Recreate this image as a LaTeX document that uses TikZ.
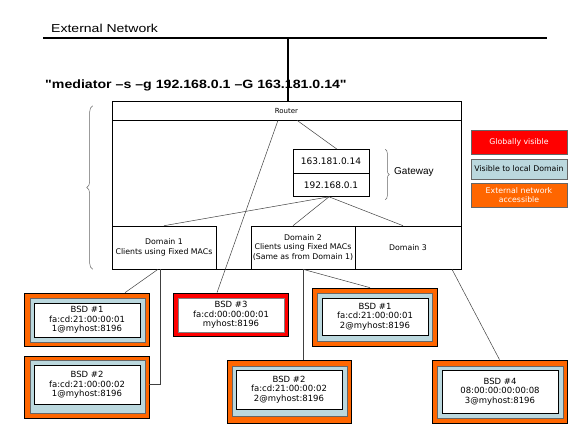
\documentclass[tikz,border=0pt]{standalone}
\usepackage{fontspec}
\usepackage{xcolor}
\usepackage{graphicx}
\usepackage{tikz}
\usetikzlibrary{decorations.pathreplacing}
\setmainfont{DejaVu Sans}
\newfontfamily\arialfont{Liberation Sans}
\definecolor{extorange}{RGB}{255,102,0}
\definecolor{localblue}{RGB}{187,216,222}
\definecolor{globalred}{RGB}{255,0,0}

\tikzset{
  box/.style={draw, line width=0.6pt, inner sep=0pt, align=center},
  bsdouter/.style={draw, line width=0.7pt, fill=extorange, inner sep=0pt},
  bsdpad/.style={draw=black!60, line width=0.5pt, fill=localblue, inner sep=0pt},
  bsdtext/.style={draw, line width=0.6pt, fill=white, inner sep=0pt, align=center, font=\fontsize{8.5}{9.5}\selectfont},
  link/.style={draw=black!75, line width=0.5pt},
  key/.style={draw=black!60, line width=0.5pt, minimum width=96pt, inner sep=0pt, align=center, font=\fontsize{7.8}{9}\selectfont},
  bracket/.style={decorate, draw=black!60, line width=0.5pt},
}

\begin{document}
\begin{tikzpicture}[x=1pt,y=-1pt]
\useasboundingbox (0,0) rectangle (576,432);

% external network and command line
\node[anchor=west, inner sep=0pt, font=\arialfont\fontsize{11.5}{13}\selectfont] (extlabel) at (51,28) {\scalebox{1.22}[1]{External Network}};
\coordinate (netw) at (43,38);
\coordinate (nete) at (547,38);
\coordinate (uplink) at (288,38);
\draw[line width=2.7pt] (netw) -- (nete);
\node[anchor=west, inner sep=0pt, font=\arialfont\fontsize{12}{14}\selectfont] (cmd) at (45,85) {\scalebox{1.18}[1]{\textbf{"mediator –s –g 192.168.0.1 –G 163.181.0.14"}}};

% router
\node[box, minimum width=349pt, minimum height=168pt] (routerbox) at (286.5,185) {};
\node[box, minimum width=349pt, minimum height=19pt, font=\fontsize{7}{8}\selectfont] (router) at (286.5,110.5) {Router};
\draw[line width=2.7pt] (uplink) -- (uplink |- router.north);

% gateway
\node[box, minimum width=76pt, minimum height=23.5pt, font=\fontsize{9}{10}\selectfont] (gwpub) at (331,161.25) {163.181.0.14};
\node[box, minimum width=76pt, minimum height=23.5pt, font=\fontsize{9}{10}\selectfont] (gwpriv) at (331,184.75) {192.168.0.1};
\draw[bracket, decoration={brace, amplitude=4pt}] ([xshift=16pt]gwpub.north east) -- ([xshift=16pt, yshift=-3pt]gwpriv.south east);
\node[anchor=west, inner sep=0pt, font=\arialfont\fontsize{10}{12}\selectfont] (gwlabel) at (394,172) {Gateway};

% domains
\node[box, minimum width=104pt, minimum height=43pt, font=\fontsize{7.8}{9.5}\selectfont] (dom1) at (164,247.5) {Domain 1\\Clients using Fixed MACs};
\node[box, minimum width=104pt, minimum height=43pt, font=\fontsize{7.8}{9.5}\selectfont] (dom2) at (303,247.5) {Domain 2\\Clients using Fixed MACs\\(Same as from Domain 1)};
\node[box, minimum width=106pt, minimum height=43pt, font=\fontsize{7.8}{9.5}\selectfont] (dom3) at (408,247.5) {Domain 3};
\draw[bracket, decoration={brace, amplitude=6pt}] ([xshift=-19pt]routerbox.south west) -- ([xshift=-19pt, yshift=-5pt]routerbox.north west);

% clients
\node[bsdouter, minimum width=125pt, minimum height=53pt] (bsd1a) at (86.5,319.5) {};
\node[bsdpad, minimum width=115pt, minimum height=44pt] (bsd1apad) at (87.5,320) {};
\node[bsdtext, minimum width=106pt, minimum height=34pt] (bsd1atxt) at (87,320) {BSD \#1\\fa:cd:21:00:00:01\\1@myhost:8196};

\node[bsdouter, minimum width=125pt, minimum height=62pt] (bsd2a) at (86.5,387) {};
\node[bsdpad, minimum width=115pt, minimum height=53pt] (bsd2apad) at (87.5,386.5) {};
\node[bsdtext, minimum width=106pt, minimum height=39pt] (bsd2atxt) at (87,385) {BSD \#2\\fa:cd:21:00:00:02\\1@myhost:8196};

\node[draw, line width=0.7pt, fill=globalred, inner sep=0pt, minimum width=115pt, minimum height=43pt] (bsd3) at (230.5,314.5) {};
\node[bsdtext, draw=black!50, minimum width=106pt, minimum height=34pt] (bsd3txt) at (231,315) {BSD \#3\\fa:cd:00:00:00:01\\myhost:8196};

\node[bsdouter, minimum width=125pt, minimum height=58pt] (bsd1b) at (374.5,317) {};
\node[bsdpad, minimum width=115pt, minimum height=48pt] (bsd1bpad) at (374.5,317) {};
\node[bsdtext, minimum width=106pt, minimum height=37pt] (bsd1btxt) at (375,316.5) {BSD \#1\\fa:cd:21:00:00:01\\2@myhost:8196};

\node[bsdouter, minimum width=124pt, minimum height=63pt] (bsd2b) at (289,391.5) {};
\node[bsdpad, minimum width=115pt, minimum height=50pt] (bsd2bpad) at (289.5,391) {};
\node[bsdtext, minimum width=106pt, minimum height=39pt] (bsd2btxt) at (289,389.5) {BSD \#2\\fa:cd:21:00:00:02\\2@myhost:8196};

\node[bsdouter, minimum width=135pt, minimum height=63pt] (bsd4) at (499.5,391.5) {};
\node[bsdpad, minimum width=126pt, minimum height=52pt] (bsd4pad) at (500,392) {};
\node[bsdtext, minimum width=116pt, minimum height=43pt] (bsd4txt) at (500,391.5) {BSD \#4\\08:00:00:00:00:08\\3@myhost:8196};

% legend
\node[key, fill=globalred, text=white, minimum height=24pt] (keyglobal) at (519,142) {Globally visible};
\node[key, fill=localblue, minimum height=20pt] (keylocal) at (519,169) {Visible to local Domain};
\node[key, fill=extorange, text=white, minimum height=24pt] (keyext) at (519,195) {External network\\accessible};

% links
\path[link] ([xshift=-8.5pt]router.south) -- ([xshift=-13.5pt]bsd3.north);
\path[link] ([xshift=10.5pt]router.south) -- ([xshift=6pt]gwpub.north);
\path[link] ([xshift=-2pt]gwpriv.south) -- (dom1.north);
\path[link] ([xshift=-2pt]gwpriv.south) -- ([xshift=-10pt]dom2.north);
\path[link] ([xshift=-2pt]gwpriv.south) -- ([xshift=-5pt]dom3.north);
\path[link] ([xshift=-6pt]dom1.south) -- ([xshift=38.5pt]bsd1a.north);
\path[link] ([xshift=-4pt]dom1.south) |- ([yshift=3pt]bsd2a.east);
\path[link] (dom2.south) -- (dom2.south |- bsd2b.north);
\path[link] (dom2.south) -- ([xshift=-4.5pt]bsd1b.north);
\path[link] ([xshift=44pt]dom3.south) -- (bsd4.north);
\end{tikzpicture}
\end{document}
